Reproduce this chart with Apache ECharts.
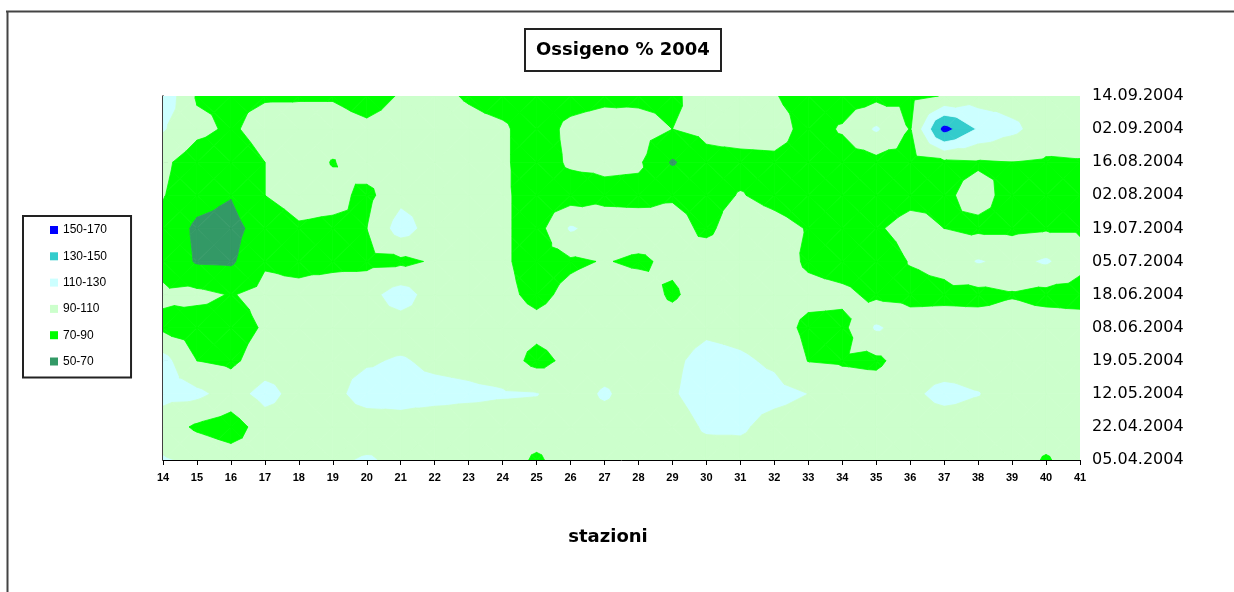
<!DOCTYPE html>
<html>
<head>
<meta charset="utf-8">
<script src="https://cdn.jsdelivr.net/npm/echarts@6/dist/echarts.min.js"></script>
<style>
html,body{margin:0;padding:0;background:#fff;}
#chart{width:1234px;height:592px;}
</style>
</head>
<body>
<div id="chart"></div>
<script>
// x categories (stations) and y categories (sampling dates, bottom to top)
const stations = ['14','15','16','17','18','19','20','21','22','23','24','25','26','27','28','29','30','31','32','33','34','35','36','37','38','39','40','41'];
const dates = ['05.04.2004','22.04.2004','12.05.2004','19.05.2004','08.06.2004','18.06.2004','05.07.2004','19.07.2004','02.08.2004','16.08.2004','02.09.2004','14.09.2004'];

// legend bands
const bandNames = ['150-170','130-150','110-130','90-110','70-90','50-70'];
const bandLow   = [150, 130, 110, 90, 70, 50];
const bandHigh  = [170, 150, 130, 110, 90, 70];
const bandColors = ['#0000FF','#33CCCC','#CCFFFF','#CCFFCC','#00FF00','#339966'];

// Ossigeno % per date, one value per station (14..41)
const o_0504 = [112,106,100,100,100,107,112,106,100,100,100,87,100,100,100,100,100,102,100,100,100,100,100,100,100,100,88,100];
const o_2204 = [100,87,80,100,100,100,100,104,100,100,100,100,100,100,100,100,113,113,103,100,100,100,100,100,100,100,100,100];
const o_1205 = [116,115,102,117,103,105,118,116,116,114,112,111,100,113,100,108,120,118,116,110,100,100,106,116,111,100,100,100];
const o_1905 = [118,90,86,100,100,105,108,112,106,104,100,84,95,100,100,106,117,113,107,89.5,88,86,100,100,100,100,100,100];
const o_0806 = [86,80,82,92,100,103,100,100,100,100,100,96,100,100,100,100,106,104,100,85,85,113,100,100,100,100,100,100];
const o_1806 = [93,95,89,95,95,100,103,120,100,100,95,85,95,100,100,87,100,100,100,96,94,86,84,85,84,88.5,84,82];
const o_0507 = [85,68,67,88,85,85,85,86,92,100,93,82,87,91,87,94,100,100,100,87,82,80,91,96,112,104,113,96];
const o_1907 = [85,66,63,80,88,86,90,120,100,100,93,82,113,100,100,97,86,100,96,89,80,88,96,90,86,86,88,88];
const o_0208 = [91,78,71,90,97,96,85,104,100,100,93,82,80,85,84,88,84,91,85,80,80,80,85,87,96,84,82,82];
const o_1608 = [94,80,78,90,100,89,100,100,100,100,93,80,93,94,93,68,84,84,85,82,80,84,82,86,88,90,88,89];
const o_0209 = [112,95,87,98,100,100,95,100,100,96,93,80,95,100,97,90,95,99,100,82,92,113,89,158,128,115,100,98];
const o_1409 = [125,88,87,88,88,88,80,92,95,88,82,80,82,85,86,86,100,100,91,83,80,85,85,91,100,100,100,100];

const rows = [o_0504,o_2204,o_1205,o_1905,o_0806,o_1806,o_0507,o_1907,o_0208,o_1608,o_0209,o_1409];

const cells = [];
for (let j = 0; j < dates.length - 1; j++) {
  for (let i = 0; i < stations.length - 1; i++) cells.push([i, j]);
}

function clipGE(poly, lo) {
  const out = [];
  for (let k = 0; k < poly.length; k++) {
    const P = poly[k], Q = poly[(k + 1) % poly.length];
    const pin = P[2] >= lo, qin = Q[2] >= lo;
    if (pin) out.push(P);
    if (pin !== qin) {
      const t = (lo - P[2]) / (Q[2] - P[2]);
      out.push([P[0] + t * (Q[0] - P[0]), P[1] + t * (Q[1] - P[1]), lo]);
    }
  }
  return out;
}
function clipLE(poly, hi) {
  const out = [];
  for (let k = 0; k < poly.length; k++) {
    const P = poly[k], Q = poly[(k + 1) % poly.length];
    const pin = P[2] <= hi, qin = Q[2] <= hi;
    if (pin) out.push(P);
    if (pin !== qin) {
      const t = (hi - P[2]) / (Q[2] - P[2]);
      out.push([P[0] + t * (Q[0] - P[0]), P[1] + t * (Q[1] - P[1]), hi]);
    }
  }
  return out;
}

function makeRender(b) {
  const lo = bandLow[b], hi = bandHigh[b], col = bandColors[b];
  return function (params, api) {
    const i = api.value(0), j = api.value(1);
    const va = rows[j][i], vb = rows[j][i + 1], vc = rows[j + 1][i + 1], vd = rows[j + 1][i];
    const ve = (va + vb + vc + vd) / 4;
    const A = [i, j, va], B = [i + 1, j, vb], C = [i + 1, j + 1, vc], D = [i, j + 1, vd], E = [i + 0.5, j + 0.5, ve];
    const tris = [[A, B, E], [B, C, E], [C, D, E], [D, A, E]];
    const children = [];
    for (const tri of tris) {
      let poly = clipGE(tri, lo);
      if (poly.length < 3) continue;
      poly = clipLE(poly, hi);
      if (poly.length < 3) continue;
      const pts = poly.map(p => api.coord([p[0], p[1]]));
      children.push({
        type: 'polygon',
        shape: { points: pts },
        style: { fill: col, stroke: col, lineWidth: 0.8 }
      });
    }
    return { type: 'group', children: children };
  };
}

const series = bandNames.map((name, b) => ({
  name: name,
  type: 'custom',
  data: cells,
  encode: { x: 0, y: 1 },
  clip: true,
  silent: true,
  itemStyle: { color: bandColors[b] },
  renderItem: makeRender(b)
}));

const chart = echarts.init(document.getElementById('chart'), null, { renderer: 'canvas' });
chart.setOption({
  animation: false,
  backgroundColor: '#ffffff',
  textStyle: { fontFamily: 'Liberation Sans' },
  title: {
    text: 'Ossigeno % 2004',
    left: 525, top: 29,
    padding: [12, 11, 12, 11],
    borderColor: '#222', borderWidth: 2,
    textStyle: { fontFamily: 'DejaVu Sans', fontWeight: 'bold', fontSize: 18, color: '#000' }
  },
  legend: {
    data: bandNames,
    orient: 'vertical',
    left: 23, top: 216,
    padding: [7, 24, 9, 27],
    itemWidth: 8, itemHeight: 8,
    itemGap: 12.3,
    icon: 'rect',
    selectedMode: false,
    borderColor: '#222', borderWidth: 2,
    textStyle: { fontFamily: 'Liberation Sans', fontSize: 12, color: '#000', lineHeight: 14 }
  },
  grid: { left: 163, right: 154, top: 96, bottom: 132, containLabel: false },
  xAxis: {
    type: 'value', min: 0, max: stations.length - 1, interval: 1,
    axisLine: { show: true, lineStyle: { color: '#000', width: 1 } },
    axisTick: { show: true, inside: false, length: 5, lineStyle: { color: '#000' } },
    splitLine: { show: false },
    axisLabel: {
      margin: 12,
      formatter: v => stations[v] || '',
      fontFamily: 'Liberation Sans', fontWeight: 'bold', fontSize: 11, color: '#000'
    }
  },
  yAxis: {
    type: 'value', min: 0, max: dates.length - 1, interval: 1, position: 'right',
    axisLine: { show: true, lineStyle: { color: '#000', width: 1.5 } },
    axisTick: { show: true, inside: false, length: 5, lineStyle: { color: '#000' } },
    splitLine: { show: false },
    axisLabel: {
      margin: 12,
      formatter: v => dates[v] || '',
      fontFamily: 'DejaVu Sans', fontSize: 16, color: '#000'
    }
  },
  graphic: [
    { type: 'line', shape: { x1: 6, y1: 11.5, x2: 1234, y2: 11.5 }, style: { stroke: '#444', lineWidth: 2 } },
    { type: 'line', shape: { x1: 7.5, y1: 11, x2: 7.5, y2: 592 }, style: { stroke: '#444', lineWidth: 2 } },
    { type: 'text', x: 608, y: 537, style: { text: 'stazioni', fontFamily: 'DejaVu Sans', fontWeight: 'bold', fontSize: 18, fill: '#000', textAlign: 'center', textVerticalAlign: 'middle' } }
  ],
  series: series
});
</script>
</body>
</html>
